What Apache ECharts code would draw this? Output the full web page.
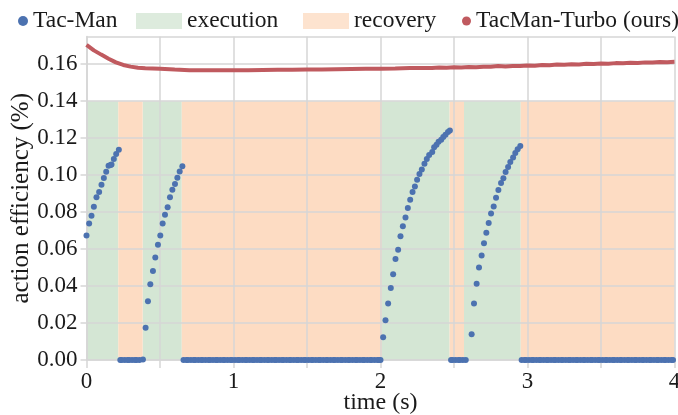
<!DOCTYPE html>
<html>
<head>
<meta charset="utf-8">
<script src="https://cdn.jsdelivr.net/npm/echarts@6/dist/echarts.min.js"></script>
<style>html,body{margin:0;padding:0;background:#fff}#c{width:678px;height:415px}</style>
</head>
<body>
<div id="c"></div>
<script>
// ---- data ----
// Tac-Man: execution phases (rising efficiency)
var tacExecTime = [
  0.000,0.018,0.034,0.050,0.068,0.086,0.102,0.118,0.134,0.150,0.164,0.170,0.186,0.202,0.220,
  0.384,0.402,0.418,0.434,0.452,0.468,0.486,0.502,0.518,0.534,0.552,0.568,0.584,0.602,0.618,0.634,0.652,
  2.018,2.034,2.052,2.070,2.086,2.102,2.120,2.136,2.152,2.170,2.186,2.202,2.218,2.234,2.249,2.265,2.281,2.299,2.315,2.331,2.352,2.365,2.381,2.395,2.413,2.427,2.442,2.459,2.472,
  2.620,2.636,2.654,2.670,2.688,2.704,2.720,2.736,2.752,2.770,2.786,2.802,2.820,2.836,2.851,2.868,2.883,2.902,2.917,2.933,2.951
];
var tacExecValue = [
  0.0674,0.0739,0.0780,0.0829,0.0880,0.0909,0.0948,0.0984,0.1019,0.1051,0.1055,0.1057,0.1087,0.1115,0.1138,
  0.0003,0.0175,0.0318,0.0410,0.0482,0.0555,0.0623,0.0674,0.0739,0.0786,0.0826,0.0880,0.0921,0.0952,0.0986,0.1020,0.1048,
  0.0123,0.0215,0.0305,0.0390,0.0464,0.0546,0.0596,0.0670,0.0724,0.0771,0.0822,0.0867,0.0909,0.0939,0.0975,0.1006,0.1030,0.1062,0.1087,0.1109,0.1125,0.1151,0.1165,0.1180,0.1192,0.1207,0.1219,0.1234,0.1241,
  0.0139,0.0305,0.0412,0.0500,0.0565,0.0632,0.0688,0.0741,0.0793,0.0831,0.0878,0.0919,0.0957,0.0983,0.1017,0.1044,0.1071,0.1096,0.1120,0.1140,0.1158
];
// Tac-Man: recovery phases (efficiency is 0)
var tacZeroTime = [
  0.23,0.24,0.26,0.28,0.29,0.31,0.33,0.34,0.36,
  0.66,0.68,0.69,0.71,0.73,0.74,0.76,0.78,0.79,0.81,0.83,0.84,0.86,0.88,0.89,0.91,0.93,0.94,0.96,0.98,0.99,
  1.01,1.03,1.04,1.06,1.08,1.09,1.11,1.13,1.14,1.16,1.18,1.19,1.21,1.23,1.24,1.26,1.28,1.29,1.31,1.33,1.34,
  1.36,1.38,1.39,1.41,1.43,1.44,1.46,1.48,1.49,1.51,1.53,1.54,1.56,1.58,1.59,1.61,1.63,1.64,1.66,1.68,1.69,
  1.71,1.73,1.74,1.76,1.78,1.79,1.81,1.83,1.84,1.86,1.88,1.89,1.91,1.93,1.94,1.96,1.98,1.99,2.00,
  2.48,2.49,2.51,2.53,2.54,2.56,2.58,
  2.96,2.98,2.99,3.01,3.03,3.04,3.06,3.08,3.09,3.11,3.13,3.14,3.16,3.18,3.19,3.21,3.23,3.24,3.26,3.28,3.29,
  3.31,3.33,3.34,3.36,3.38,3.39,3.41,3.43,3.44,3.46,3.48,3.49,3.51,3.53,3.54,3.56,3.58,3.59,3.61,3.63,3.64,
  3.66,3.68,3.69,3.71,3.73,3.74,3.76,3.78,3.79,3.81,3.83,3.84,3.86,3.88,3.89,3.91,3.93,3.94,3.96,3.98,3.99
];
var tacZeroValue = 0;
// TacMan-Turbo (ours)
var turboTime = [0,0.05,0.1,0.15,0.2,0.25,0.3,0.35,0.4,0.5,0.6,0.7,0.8,0.9,1.0,1.1,1.2,1.3,1.4,1.5,1.6,1.7,1.8,1.9,2.0,
  2.1,2.2,2.3,2.35,2.4,2.45,2.5,2.55,2.6,2.65,2.7,2.75,2.8,2.85,2.9,2.95,3.0,3.05,3.1,3.15,3.2,3.25,3.3,3.35,3.4,3.45,3.5,3.55,3.6,3.65,3.7,3.75,3.8,3.85,3.9,3.95,4.0];
var turboValue = [0.1705,0.1675,0.1652,0.1630,0.1610,0.1596,0.1587,0.1581,0.1578,0.1575,0.1571,0.1568,0.1567,0.1567,0.1568,0.1568,0.1569,0.1570,0.1570,0.1571,0.1572,0.1573,0.1574,0.1575,0.1576,
  0.1577,0.1579,0.1580,0.1579,0.1582,0.1581,0.1583,0.1582,0.1585,0.1584,0.1587,0.1586,0.1590,0.1588,0.1591,0.1590,0.1593,0.1592,0.1596,0.1595,0.1598,0.1597,0.1600,0.1599,0.1602,0.1601,0.1604,0.1603,0.1606,0.1605,0.1608,0.1607,0.1610,0.1609,0.1612,0.1611,0.1613];
// phases
var execPhases = [[0,0.216],[0.382,0.648],[2.01,2.47],[2.568,2.954]];
var recoveryPhases = [[0.216,0.382],[0.648,2.01],[2.47,2.568],[2.954,4.0]];
var phaseTop = 0.14;
var xTickLabels = ['0','1','2','3','4'];

// ---- chart ----
var FONT = 'Liberation Serif';
var TXT = '#1a1a1a';
var GRID = '#d6d6d6';
var BLUE = '#4c72b0', RED = '#c05a5f', GREEN = '#d4e6d4', ORANGE = '#fddcc3';

function areas(list){
  return list.map(function(p){ return [{xAxis:p[0], yAxis:0},{xAxis:p[1], yAxis:phaseTop}]; });
}
var tacData = tacExecTime.map(function(t,i){ return [t, tacExecValue[i]]; })
  .concat(tacZeroTime.map(function(t){ return [t, tacZeroValue]; }));
var turboData = turboTime.map(function(t,i){ return [t, turboValue[i]]; });

var legText = {fontFamily: FONT, fontSize: 23.5, color: TXT};
var option = {
  animation: false,
  backgroundColor: '#fff',
  grid: {left: 86.5, right: 3.5, top: 36.5, bottom: 55, containLabel: false, outerBoundsMode: 'none'},
  legend: [
    {data:[{name:'Tac-Man', icon:'circle'}], left: 13, top: 4, itemWidth: 10, itemHeight: 10, textStyle: legText, selectedMode:false},
    {data:[{name:'execution', icon:'rect'}], left: 131, top: 4, itemWidth: 46, itemHeight: 16, textStyle: legText, selectedMode:false},
    {data:[{name:'recovery', icon:'rect'}], left: 298, top: 4, itemWidth: 46, itemHeight: 16, textStyle: legText, selectedMode:false},
    {data:[{name:'TacMan-Turbo (ours)', icon:'circle'}], left: 457, top: 4, itemWidth: 9, itemHeight: 9, textStyle: legText, selectedMode:false}
  ],
  xAxis: {
    type: 'value', min: 0, max: 4, interval: 0.5, z: 3,
    name: 'time (s)', nameLocation: 'middle', nameGap: 31, nameMoveOverlap: false,
    nameTextStyle: {fontFamily: FONT, fontSize: 24, color: TXT},
    axisLine: {lineStyle: {color: GRID, width: 1.5}},
    axisTick: {length: 8, lineStyle: {color: GRID, width: 1.5}},
    splitLine: {show: true, lineStyle: {color: GRID, width: 1.5}},
    axisLabel: {fontFamily: FONT, fontSize: 23, color: TXT, margin: 10,
      formatter: function(v){ var i = Math.round(v); return Math.abs(v - i) < 1e-6 ? xTickLabels[i] : ''; }}
  },
  yAxis: {
    type: 'value', min: 0, max: 0.175, interval: 0.02, z: 3,
    name: 'action efficiency (%)', nameLocation: 'middle', nameGap: 53, nameMoveOverlap: false,
    nameTextStyle: {fontFamily: FONT, fontSize: 25, color: TXT},
    axisLine: {show: true, lineStyle: {color: GRID, width: 1.5}},
    axisTick: {show: true, length: 6, lineStyle: {color: GRID, width: 1.5}},
    splitLine: {show: true, lineStyle: {color: GRID, width: 1.5}},
    axisLabel: {fontFamily: FONT, fontSize: 23, color: TXT, margin: 9, showMaxLabel: false,
      formatter: function(v){ return v.toFixed(2); }}
  },
  series: [
    {name: 'execution', type: 'scatter', data: [], z: 1, itemStyle: {color: GREEN},
      markArea: {silent: true, z: 1, itemStyle: {color: GREEN}, data: areas(execPhases)}},
    {name: 'recovery', type: 'scatter', data: [], z: 1, itemStyle: {color: ORANGE},
      markArea: {silent: true, z: 1, itemStyle: {color: ORANGE}, data: areas(recoveryPhases)}},
    {name: 'Tac-Man', type: 'scatter', z: 10, symbolSize: 6, itemStyle: {color: BLUE, opacity: 1},
      data: tacData},
    {name: 'TacMan-Turbo (ours)', type: 'line', z: 10, showSymbol: false, symbol: 'none',
      itemStyle: {color: RED}, lineStyle: {color: RED, width: 4}, data: turboData}
  ]
};
var chart = echarts.init(document.getElementById('c'), null, {renderer: 'canvas'});
chart.setOption(option);
</script>
</body>
</html>
